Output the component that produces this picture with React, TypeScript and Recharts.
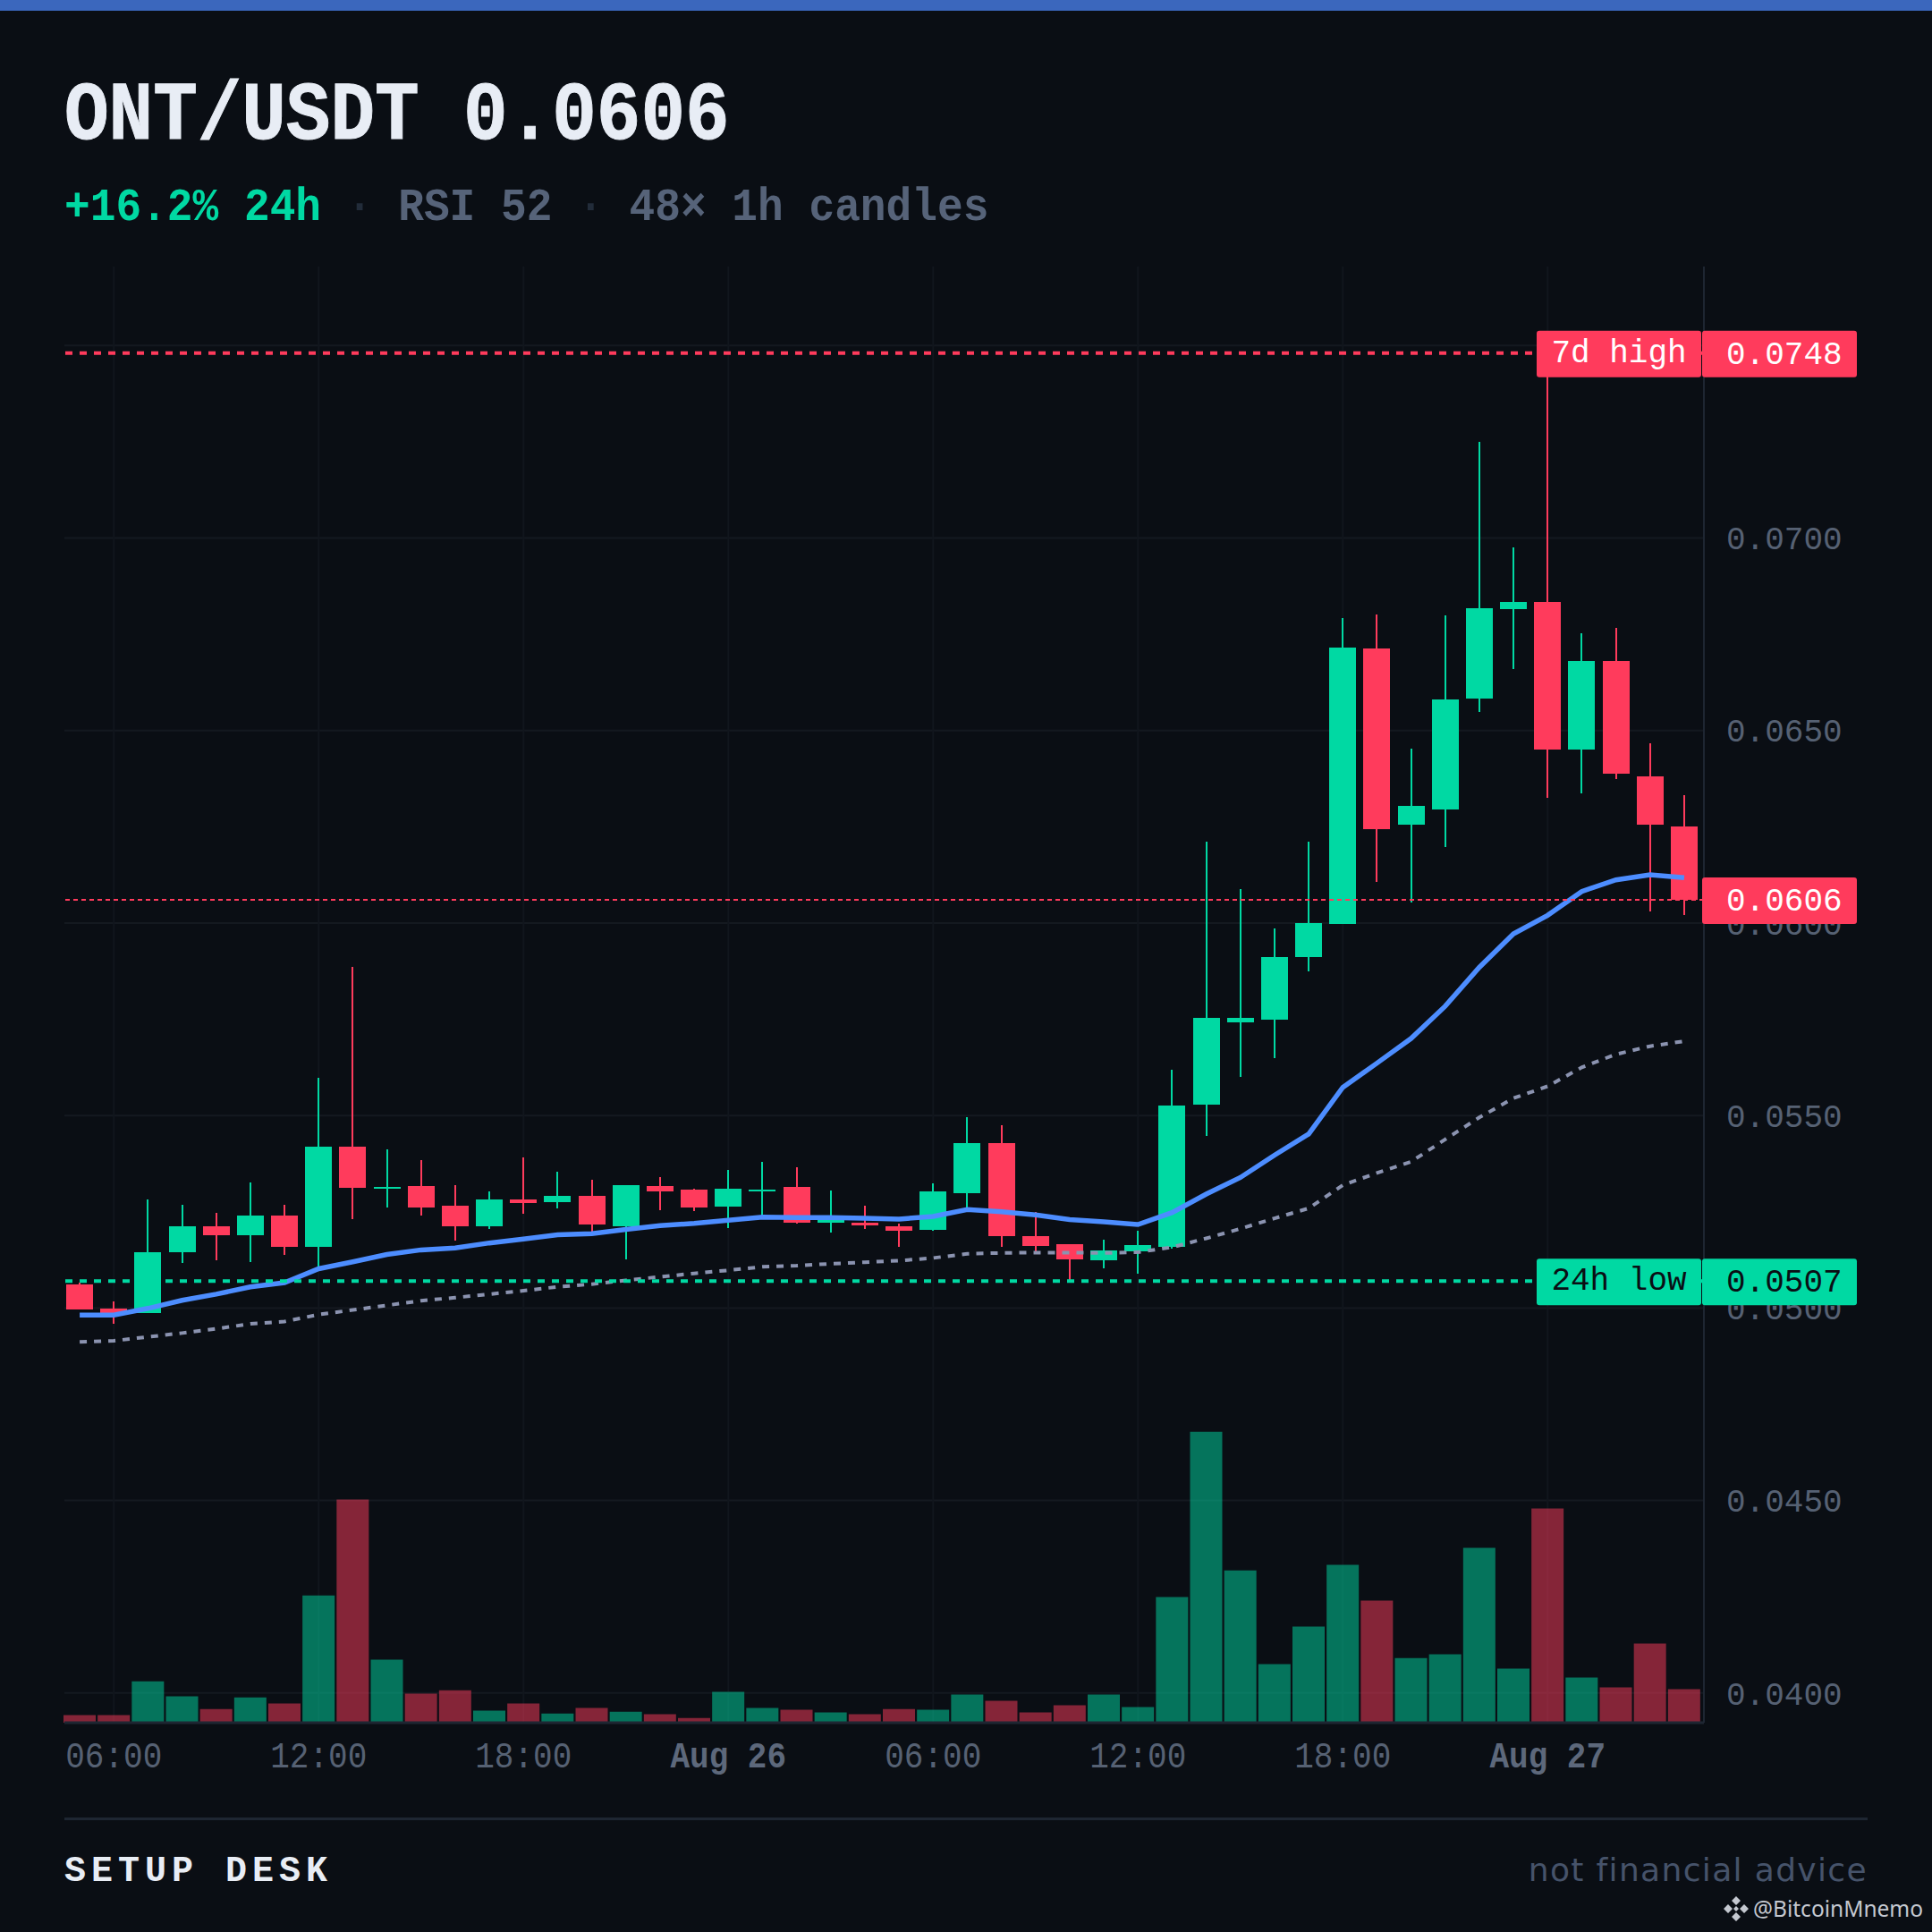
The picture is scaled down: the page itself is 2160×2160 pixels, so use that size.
import React from "react";
import {
  ComposedChart,
  Bar,
  Line,
  Cell,
  XAxis,
  YAxis,
  CartesianGrid,
  ReferenceLine,
} from "recharts";

const MONO = '"Liberation Mono", monospace';
const UP = "#00d9a3";
const DOWN = "#ff3b5c";
const BG = "#0a0e14";

// hourly candle keys, day + hour
const hours = [
  "25 05", "25 06", "25 07", "25 08", "25 09", "25 10", "25 11", "25 12",
  "25 13", "25 14", "25 15", "25 16", "25 17", "25 18", "25 19", "25 20",
  "25 21", "25 22", "25 23", "26 00", "26 01", "26 02", "26 03", "26 04",
  "26 05", "26 06", "26 07", "26 08", "26 09", "26 10", "26 11", "26 12",
  "26 13", "26 14", "26 15", "26 16", "26 17", "26 18", "26 19", "26 20",
  "26 21", "26 22", "26 23", "27 00", "27 01", "27 02", "27 03", "27 04",
];
const opens = [
  0.05062, 0.04999, 0.04986, 0.05146, 0.05213, 0.05188, 0.05241, 0.0516,
  0.05418, 0.05313, 0.05316, 0.05265, 0.05213, 0.05281, 0.05276, 0.05292,
  0.05213, 0.05318, 0.05307, 0.05263, 0.05305, 0.05314, 0.05221, 0.05221,
  0.05212, 0.05203, 0.05298, 0.05428, 0.05186, 0.05165, 0.05124, 0.05147,
  0.05158, 0.05528, 0.05743, 0.05749, 0.05912, 0.05998, 0.06712, 0.06255,
  0.06294, 0.06583, 0.06816, 0.06834, 0.0645, 0.0668, 0.06381, 0.06251,
];
const closes = [
  0.04997, 0.04987, 0.05146, 0.05213, 0.05188, 0.05241, 0.0516, 0.05418,
  0.05313, 0.05315, 0.05262, 0.05213, 0.05283, 0.05272, 0.05292, 0.05218,
  0.0532, 0.05304, 0.05261, 0.05309, 0.05308, 0.05221, 0.05228, 0.05214,
  0.052, 0.05302, 0.05428, 0.05186, 0.05161, 0.05126, 0.05149, 0.05163,
  0.05526, 0.05754, 0.05754, 0.05912, 0.06, 0.06715, 0.06244, 0.06304,
  0.06581, 0.06818, 0.06834, 0.0645, 0.0668, 0.06388, 0.06255, 0.0606,
];
const highs = [
  0.05066, 0.05018, 0.05281, 0.05267, 0.05248, 0.05325, 0.05269, 0.05599,
  0.05887, 0.05413, 0.05385, 0.0532, 0.05304, 0.05392, 0.05355, 0.05334,
  0.0532, 0.05341, 0.05309, 0.05358, 0.05379, 0.05365, 0.05305, 0.05265,
  0.05219, 0.05323, 0.05495, 0.05474, 0.05249, 0.05165, 0.05177, 0.052,
  0.05618, 0.06211, 0.06088, 0.05986, 0.06211, 0.06791, 0.06801, 0.06453,
  0.06799, 0.0725, 0.06976, 0.0748, 0.06752, 0.06766, 0.06467, 0.06331,
];
const lows = [
  0.04997, 0.04958, 0.04986, 0.05118, 0.05123, 0.0512, 0.05139, 0.05103,
  0.05232, 0.05262, 0.05241, 0.05174, 0.05206, 0.05246, 0.05258, 0.05196,
  0.05127, 0.05255, 0.05251, 0.05207, 0.05235, 0.05219, 0.05196, 0.05205,
  0.05158, 0.052, 0.05255, 0.05158, 0.05147, 0.0507, 0.05103, 0.05089,
  0.05154, 0.05448, 0.056, 0.05649, 0.05874, 0.05998, 0.06106, 0.06054,
  0.06197, 0.06547, 0.0666, 0.06324, 0.06336, 0.06374, 0.06031, 0.06021,
];
const volumes = [
  22, 22, 121, 77, 40, 74, 56, 372, 652, 184, 85, 95, 35, 56, 27, 43,
  32, 25, 14, 90, 43, 38, 30, 25, 40, 38, 82, 64, 30, 51, 82, 46,
  367, 850, 445, 171, 281, 461, 357, 189, 200, 511, 158, 626, 132, 103, 231, 98,
];
const emaFast = [
  0.04982, 0.04982, 0.04999, 0.0502, 0.05036, 0.05055, 0.05066, 0.05102,
  0.0512, 0.05139, 0.05151, 0.05156, 0.05169, 0.05179, 0.0519, 0.05193,
  0.05204, 0.05214, 0.0522, 0.05228, 0.05236, 0.05235, 0.05235, 0.05233,
  0.05231, 0.05238, 0.05256, 0.0525, 0.05242, 0.0523, 0.05224, 0.05217,
  0.05248, 0.05296, 0.05339, 0.05397, 0.05452, 0.05573, 0.05636, 0.057,
  0.05784, 0.05885, 0.05972, 0.0602, 0.06082, 0.06112, 0.06125, 0.06118,
];
const emaSlow = [
  0.04912, 0.04915, 0.04925, 0.04935, 0.04946, 0.04959, 0.04965, 0.04983,
  0.04995, 0.05007, 0.05019, 0.05027, 0.05036, 0.05045, 0.05055, 0.05062,
  0.05072, 0.05081, 0.0509, 0.05098, 0.05107, 0.0511, 0.05115, 0.05119,
  0.05123, 0.0513, 0.05141, 0.05143, 0.05144, 0.05144, 0.05143, 0.05145,
  0.05158, 0.05181, 0.05206, 0.05233, 0.05259, 0.05319, 0.05351, 0.0538,
  0.05438, 0.05495, 0.05545, 0.05576, 0.05625, 0.05659, 0.0568, 0.05693,
];
const priceTicks = [0.04, 0.045, 0.05, 0.055, 0.06, 0.065, 0.07, 0.075];
const priceDomain = [0.03923, 0.07705];
const timeTicks = ["25 06", "25 12", "25 18", "26 00", "26 06", "26 12", "26 18", "27 00"];
const timeLabels = ["06:00", "12:00", "18:00", "Aug 26", "06:00", "12:00", "18:00", "Aug 27"];

const data = hours.map((hour, i) => ({
  hour,
  open: opens[i],
  close: closes[i],
  range: [lows[i], highs[i]],
  volume: volumes[i],
  emaFast: emaFast[i],
  emaSlow: emaSlow[i],
}));

const xPadding = { left: -2, right: 3 };
const chartMargin = { top: 298, right: 0, bottom: 0, left: 72 };

function Candle(props: any) {
  const { x, y, width, height, payload } = props;
  const top = Math.min(y, y + height);
  const bottom = Math.max(y, y + height);
  const [low, high] = payload.range;
  const k = (bottom - top) / (high - low);
  const bodyTop = top + (high - Math.max(payload.open, payload.close)) * k;
  const bodyBottom = top + (high - Math.min(payload.open, payload.close)) * k;
  const color = payload.close >= payload.open ? UP : DOWN;
  return (
    <g shapeRendering="crispEdges">
      <rect x={x + width / 2 - 1} y={top} width={2} height={bottom - top} fill={color} />
      <rect x={x} y={bodyTop} width={width} height={Math.max(bodyBottom - bodyTop, 2)} fill={color} />
    </g>
  );
}

function TimeTick(props: any) {
  const { x, y, payload } = props;
  const label = timeLabels[timeTicks.indexOf(payload.value)];
  const isDay = label.startsWith("Aug");
  return (
    <text
      transform={`translate(${x} ${y + 48}) scale(0.9 1)`}
      textAnchor="middle"
      fontFamily={MONO}
      fontSize={40}
      fontWeight={isDay ? 700 : 400}
      fill={isDay ? "#5d687b" : "#566173"}
    >
      {label}
    </text>
  );
}

function Tag(props: any) {
  const { viewBox, name, value, color, ink } = props;
  const right = viewBox.x + viewBox.width;
  const mid = viewBox.y;
  return (
    <g fontFamily={MONO} fontSize={36} fill={ink}>
      {name && (
        <>
          <rect x={right - 187} y={mid - 25} width={184} height={52} rx={3} fill={color} />
          <text x={right - 95} y={mid + 10} textAnchor="middle">
            {name}
          </text>
        </>
      )}
      <rect x={right - 2} y={mid - 25} width={173} height={52} rx={3} fill={color} />
      <text x={right + 25} y={mid + 12}>
        {value}
      </text>
    </g>
  );
}

export default function App() {
  return (
    <div style={{ position: "fixed", left: 0, top: 0, width: 2160, height: 2160, background: BG, overflow: "hidden" }}>
      <svg width={2160} height={2160} style={{ position: "absolute", left: 0, top: 0 }}>
        <rect x={0} y={0} width={2160} height={12} fill="#3b67bd" />
        <text transform="translate(72 155) scale(0.893 1)" fontFamily={MONO} fontWeight={700} fontSize={92.5} fill="#e8edf5" stroke="#e8edf5" strokeWidth={1}>
          ONT/USDT 0.0606
        </text>
        <text transform="translate(72 246) scale(0.938 1)" fontFamily={MONO} fontWeight={700} fontSize={51} xmlSpace="preserve">
          <tspan fill={UP}>+16.2% 24h</tspan>
          <tspan fill="#222c3a"> · </tspan>
          <tspan fill="#566379">RSI 52</tspan>
          <tspan fill="#222c3a"> · </tspan>
          <tspan fill="#566379">48× 1h candles</tspan>
        </text>
        <rect x={72} y={2032} width={2016} height={3} fill="#1e2632" />
        <text x={72} y={2103} fontFamily={MONO} fontWeight={700} fontSize={40} letterSpacing={6} fill="#e8edf5">
          SETUP DESK
        </text>
        <text x={2088} y={2103} textAnchor="end" fontFamily='"DejaVu Sans"' fontSize={36} letterSpacing={1.35} fill="#46536a">
          not financial advice
        </text>
        <g fill="#c4c8d0" transform="translate(1941 2134)">
          <path d="M0 -14 L5 -9 L0 -4 L-5 -9 Z M-9 -5 L-4 0 L-9 5 L-14 0 Z M9 -5 L14 0 L9 5 L4 0 Z M0 4 L5 9 L0 14 L-5 9 Z M0 -3 L3 0 L0 3 L-3 0 Z" />
        </g>
        <text x={1960} y={2143} fontFamily='"Noto Sans"' fontSize={24.5} fill="#c4c8d0">
          @BitcoinMnemo
        </text>
      </svg>
      <div style={{ position: "absolute", left: 0, top: 0 }}>
        <ComposedChart width={2160} height={2160} data={data} margin={chartMargin}>
          <CartesianGrid stroke="#141920" strokeWidth={2} vertical={false} syncWithTicks />
          <CartesianGrid stroke="#11161d" strokeWidth={2} horizontal={false} syncWithTicks />
          <XAxis
            dataKey="hour"
            ticks={timeTicks}
            height={234}
            padding={xPadding}
            tick={<TimeTick />}
            tickLine={false}
            tickSize={0}
            stroke="#1e2632"
            strokeWidth={3}
          />
          <XAxis xAxisId="vol" dataKey="hour" hide height={234} padding={xPadding} />
          <YAxis
            orientation="right"
            width={255}
            domain={priceDomain}
            allowDataOverflow
            ticks={priceTicks}
            interval={0}
            tickFormatter={(v: number) => v.toFixed(4)}
            tickLine={false}
            tickSize={0}
            tickMargin={25}
            stroke="#1e2632"
            strokeWidth={2}
            tick={{ fontFamily: MONO, fontSize: 36, fill: "#566173", textAnchor: "start" }}
          />
          <YAxis yAxisId="vol" hide domain={[0, 4254]} />
          <Bar xAxisId="vol" yAxisId="vol" dataKey="volume" barSize={36} isAnimationActive={false}>
            {data.map((d) => (
              <Cell key={d.hour} fill={d.close >= d.open ? UP : DOWN} fillOpacity={0.5} />
            ))}
          </Bar>
          <Bar dataKey="range" barSize={30} shape={<Candle />} isAnimationActive={false} />
          <Line dataKey="emaSlow" type="linear" stroke="#8b93b0" strokeWidth={4} strokeDasharray="8 8" dot={false} isAnimationActive={false} />
          <Line dataKey="emaFast" type="linear" stroke="#4d8dff" strokeWidth={5.5} dot={false} isAnimationActive={false} />
        </ComposedChart>
      </div>
      {/* second chart on the same scale so the tags sit over the axis labels */}
      <div style={{ position: "absolute", left: 0, top: 0 }}>
        <ComposedChart width={2160} height={2160} data={data} margin={chartMargin}>
          <XAxis dataKey="hour" height={234} tick={false} axisLine={false} tickLine={false} />
          <YAxis
            orientation="right"
            width={255}
            domain={priceDomain}
            allowDataOverflow
            tick={false}
            axisLine={false}
            tickLine={false}
          />
          <ReferenceLine
            y={0.0748}
            stroke={DOWN}
            strokeWidth={4}
            strokeDasharray="8 8"
            label={<Tag name="7d high" value="0.0748" color={DOWN} ink="#ffffff" />}
          />
          <ReferenceLine
            y={0.0507}
            stroke={UP}
            strokeWidth={4}
            strokeDasharray="8 8"
            label={<Tag name="24h low" value="0.0507" color={UP} ink={BG} />}
          />
          <ReferenceLine
            y={0.0606}
            stroke={DOWN}
            strokeWidth={2}
            strokeDasharray="5 4"
            label={<Tag value="0.0606" color={DOWN} ink="#ffffff" />}
          />
        </ComposedChart>
      </div>
    </div>
  );
}
